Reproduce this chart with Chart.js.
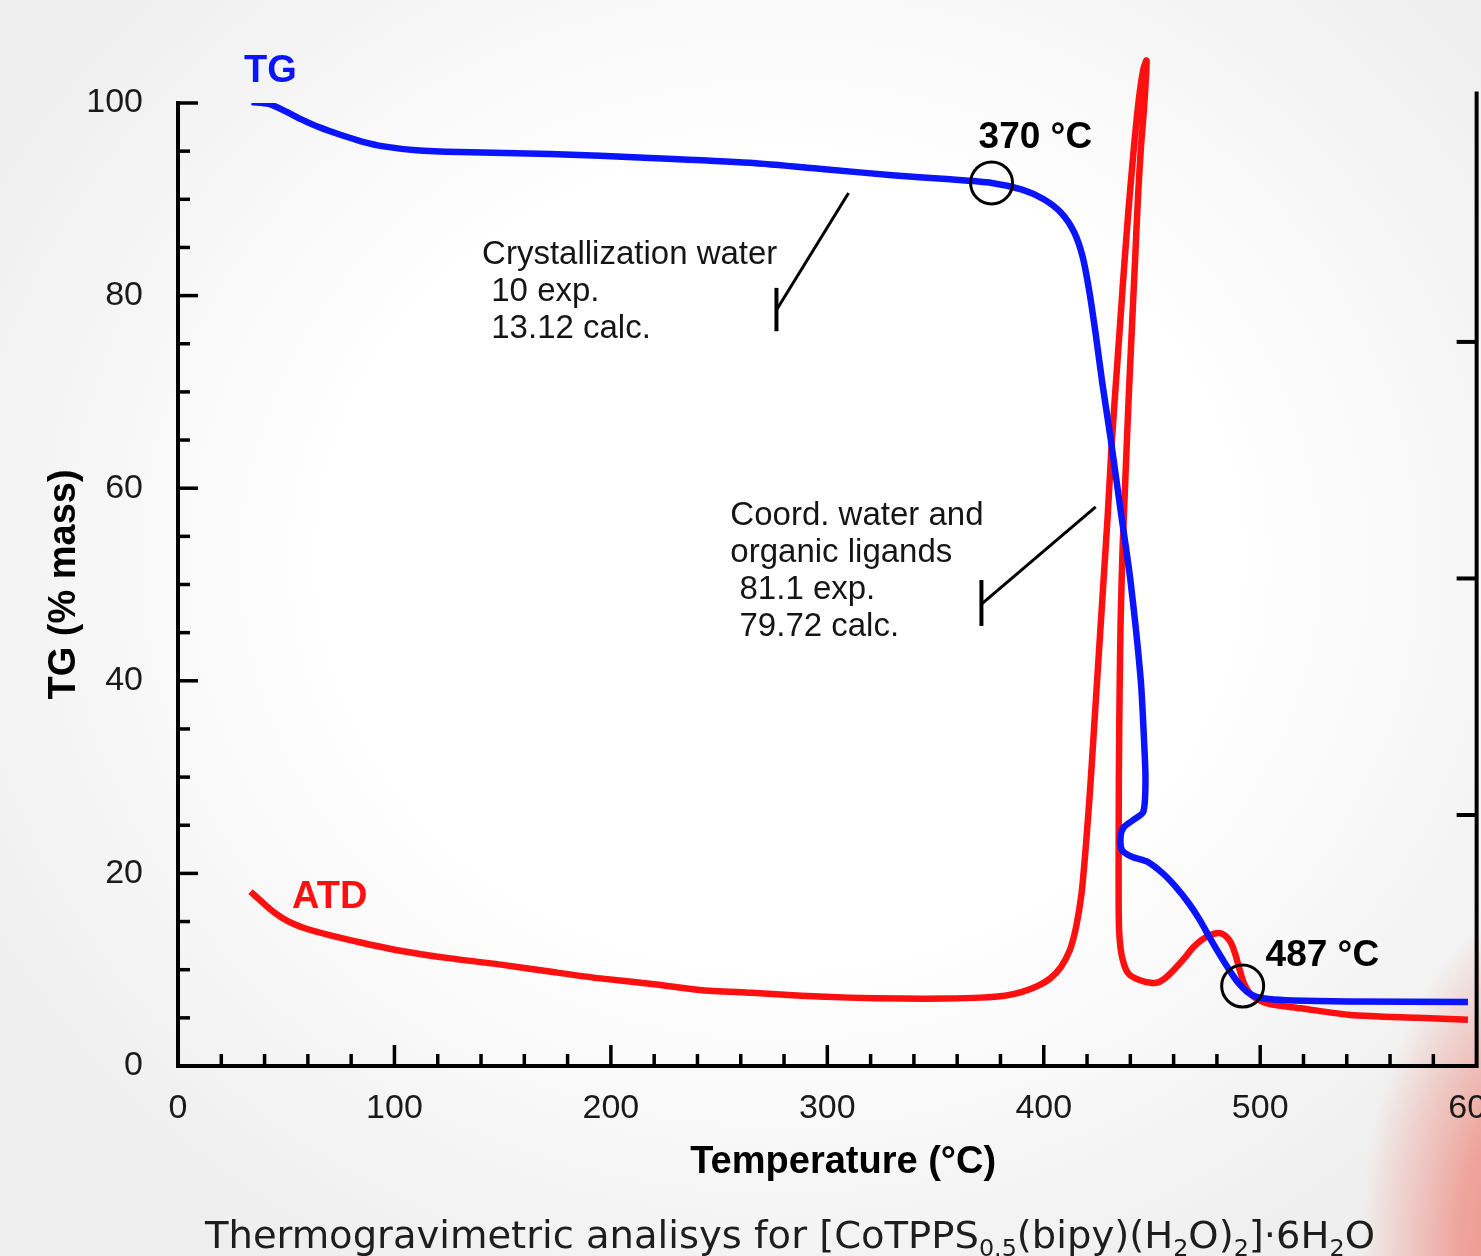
<!DOCTYPE html>
<html><head><meta charset="utf-8">
<script src="https://cdn.jsdelivr.net/npm/chart.js@4/dist/chart.umd.min.js"></script>
<style>
html,body{margin:0;padding:0;width:1481px;height:1256px;overflow:hidden;}
body{position:relative;background:
 radial-gradient(ellipse 200px 360px at 1560px 1256px, rgba(234,135,125,0.95) 0%, rgba(238,150,140,0.85) 50%, rgba(255,255,255,0) 100%),
 radial-gradient(ellipse 900px 800px at 780px 560px, #ffffff 50%, #efefef 100%);}
#c{position:absolute;left:0;top:0;}
#cap{position:absolute;left:205px;top:1217px;font-family:"DejaVu Sans Condensed","DejaVu Sans",sans-serif;font-size:37px;color:#1e1e1e;white-space:nowrap;transform-origin:0 0;line-height:1;}
#cap sub{font-size:0.62em;vertical-align:-0.35em;line-height:0;}
</style></head>
<body>
<canvas id="c" width="1527" height="1256"></canvas>
<div id="cap">Thermogravimetric analisys for [CoTPPS<sub>0.5</sub>(bipy)(H<sub>2</sub>O)<sub>2</sub>]·6H<sub>2</sub>O</div>
<script>
// ---- data ----
const tgTemp = [34, 42, 50, 57, 65, 75, 85, 95, 110, 130, 172, 218, 264, 300, 330, 355, 376, 390, 400, 408, 414, 418, 421, 424, 427, 431, 435.5, 440, 444.8, 446.5, 447, 446, 441, 437, 435.5, 436.2, 441, 448, 455, 461, 467, 472, 477, 482, 486.5, 490, 494, 498, 504, 515, 540, 596];
const tgMass = [100.1, 99.9, 99.1, 98.3, 97.5, 96.7, 96.0, 95.5, 95.1, 94.9, 94.7, 94.3, 93.8, 93.1, 92.5, 92.1, 91.7, 91.0, 90.0, 88.6, 86.6, 84.0, 80.5, 76, 71, 65, 57.7, 50.5, 40.1, 33, 29.7, 26.4, 25.5, 24.8, 23.8, 22.4, 21.7, 21.2, 20.0, 18.6, 16.9, 15.2, 13.2, 11.3, 9.7, 8.6, 7.7, 7.2, 6.95, 6.8, 6.7, 6.65];

const atdTemp = [33.5, 38, 43, 48, 53, 60, 70, 85, 102, 125, 150, 175, 195, 220, 241, 265, 288, 310, 334, 355, 371, 382, 390, 397, 403, 408, 412, 415, 417.5, 419.5, 421.5, 423.5, 425.5, 427.5, 429.5, 431.5, 434, 436.5, 439, 441.5, 444, 446, 447.5, 446.5, 444.8, 443.5, 442.4, 440.8, 439.2, 437.8, 436.4, 435.5, 435, 434.7, 434.6, 434.6, 434.8, 435.5, 436.5, 438, 440, 444.5, 449.4, 453, 457, 461, 465, 469, 473, 477, 481, 484, 486.5, 488.5, 490.5, 492.5, 495, 499, 505, 518.7, 541.8, 572.8, 596];
const atdSignal = [18.1, 17.2, 16.2, 15.4, 14.8, 14.2, 13.6, 12.8, 12.0, 11.2, 10.5, 9.7, 9.1, 8.5, 7.9, 7.6, 7.3, 7.1, 7.0, 7.0, 7.1, 7.3, 7.7, 8.3, 9.1, 10.3, 12.0, 14.5, 18, 23, 29, 36, 43, 50, 57, 65, 73, 81, 88.5, 95, 100.5, 103.5, 104.4, 100, 95.1, 90, 84.7, 77, 69.2, 61.5, 53.6, 46, 38, 30, 22.4, 17, 14.1, 12.2, 11.0, 10.0, 9.4, 8.9, 8.65, 8.7, 9.3, 10.2, 11.2, 12.3, 13.1, 13.6, 13.8, 13.5, 12.8, 11.6, 10.0, 8.6, 7.6, 6.9, 6.4, 6.0, 5.3, 5.0, 4.8];

const seriesNames = ['TG', 'ATD'];
const xTitle = '   Temperature (°C)';
const yTitle = 'TG (% mass)';
const noteTexts = [
  ['Crystallization water', ' 10 exp.', ' 13.12 calc.'],
  ['Coord. water and', 'organic ligands', ' 81.1 exp.', ' 79.72 calc.']
];
const markLabels = ['370 °C', '487 °C'];

// ---- styling / annotation placement (data coordinates) ----
const FONT = "'Liberation Sans', Arial, sans-serif";
const notePos = [{x: 140.5, y: 84.2}, {x: 255.2, y: 57.1}];
const leaders = [
  {from: [309.8, 90.65], to: [276.5, 78.5], bar: [80.8, 76.3]},
  {from: [424.0, 58.05], to: [371.2, 47.97], bar: [50.47, 45.7]}
];
const circles = [{x: 375.9, y: 91.7}, {x: 491.9, y: 8.3}];
const markPos = [{x: 369.9, y: 96.4}, {x: 502.5, y: 11.4}];
const seriesLabelPos = [{x: 30.5, y: 103.3, color: '#0a14ff'}, {x: 52.7, y: 17.5, color: '#ff1010'}];

const toXY = (xs, ys) => xs.map((x, i) => ({x, y: ys[i]}));

const extras = {
  id: 'extras',
  afterDatasetsDraw(chart) {
    const ctx = chart.ctx, xs = chart.scales.x, ys = chart.scales.y, y2 = chart.scales.y2;
    const a = chart.chartArea;
    ctx.save();
    ctx.strokeStyle = '#000'; ctx.lineCap = 'butt';
    ctx.lineWidth = 3.5;
    ys.ticks.forEach(t => {
      if (t.value <= 0) return;
      const py = ys.getPixelForValue(t.value);
      const len = t.value % 20 === 0 ? 20 : 12;
      ctx.beginPath(); ctx.moveTo(a.left, py); ctx.lineTo(a.left + len, py); ctx.stroke();
    });
    xs.ticks.forEach(t => {
      if (t.value <= 0 || t.value >= 600) return;
      const px = xs.getPixelForValue(t.value);
      const len = t.value % 100 === 0 ? 21 : 12;
      ctx.beginPath(); ctx.moveTo(px, a.bottom); ctx.lineTo(px, a.bottom - len); ctx.stroke();
    });
    // right axis (ATD, unlabelled)
    ctx.lineWidth = 4;
    ctx.beginPath(); ctx.moveTo(a.right, ys.getPixelForValue(101.2)); ctx.lineTo(a.right, a.bottom + 2); ctx.stroke();
    [1, 2, 3].forEach(v => {
      const py = y2.getPixelForValue(v);
      ctx.beginPath(); ctx.moveTo(a.right, py); ctx.lineTo(a.right - 20, py); ctx.stroke();
    });
    // leader lines
    leaders.forEach(l => {
      ctx.lineWidth = 3;
      ctx.beginPath();
      ctx.moveTo(xs.getPixelForValue(l.from[0]), ys.getPixelForValue(l.from[1]));
      ctx.lineTo(xs.getPixelForValue(l.to[0]), ys.getPixelForValue(l.to[1]));
      ctx.stroke();
      ctx.lineWidth = 4;
      ctx.beginPath();
      ctx.moveTo(xs.getPixelForValue(l.to[0]), ys.getPixelForValue(l.bar[0]));
      ctx.lineTo(xs.getPixelForValue(l.to[0]), ys.getPixelForValue(l.bar[1]));
      ctx.stroke();
    });
    // circles
    ctx.lineWidth = 3;
    circles.forEach(c => {
      ctx.beginPath();
      ctx.arc(xs.getPixelForValue(c.x), ys.getPixelForValue(c.y), 21, 0, Math.PI * 2);
      ctx.stroke();
    });
    // note texts
    ctx.fillStyle = '#151515'; ctx.textBaseline = 'middle'; ctx.textAlign = 'left';
    ctx.font = '33px ' + FONT;
    noteTexts.forEach((lines, i) => {
      const px = xs.getPixelForValue(notePos[i].x), py = ys.getPixelForValue(notePos[i].y);
      lines.forEach((s, k) => ctx.fillText(s, px, py + k * 37));
    });
    // temperature marks
    ctx.font = 'bold 37px ' + FONT; ctx.fillStyle = '#000';
    markLabels.forEach((s, i) => ctx.fillText(s, xs.getPixelForValue(markPos[i].x), ys.getPixelForValue(markPos[i].y)));
    // series labels
    ctx.font = 'bold 38px ' + FONT;
    seriesNames.forEach((s, i) => {
      ctx.fillStyle = seriesLabelPos[i].color;
      ctx.fillText(s, xs.getPixelForValue(seriesLabelPos[i].x), ys.getPixelForValue(seriesLabelPos[i].y));
    });
    ctx.restore();
  }
};

new Chart(document.getElementById('c'), {
  type: 'scatter',
  data: {
    datasets: [
      {label: seriesNames[0], data: toXY(tgTemp, tgMass), showLine: true, borderColor: '#0a14ff', borderWidth: 6.5, pointRadius: 0, tension: 0.25, fill: false},
      {label: seriesNames[1], data: toXY(atdTemp, atdSignal), showLine: true, borderColor: '#ff1010', borderWidth: 6.5, pointRadius: 0, tension: 0.25, fill: false, clip: false}
    ]
  },
  options: {
    responsive: false, animation: false, devicePixelRatio: 1,
    layout: {padding: {left: 0, top: 103, right: 40, bottom: 71}},
    plugins: {legend: {display: false}, tooltip: {enabled: false}},
    scales: {
      x: {
        type: 'linear', min: 0, max: 600,
        grid: {display: false, drawTicks: false},
        border: {display: true, width: 4, color: '#000'},
        ticks: {stepSize: 20, maxTicksLimit: 100, autoSkip: false, maxRotation: 0, padding: 22, color: '#1a1a1a',
          font: {family: FONT, size: 34}, callback: v => (v % 100 === 0 ? String(v) : '')},
        title: {display: true, text: xTitle, color: '#000', font: {family: FONT, size: 38, weight: 'bold'}, padding: {top: 0, bottom: 0}},
        afterFit: s => { s.height = 119; }
      },
      y: {
        type: 'linear', min: 0, max: 100,
        grid: {display: false, drawTicks: false},
        border: {display: true, width: 4, color: '#000'},
        ticks: {stepSize: 5, maxTicksLimit: 100, autoSkip: false, padding: 35, color: '#1a1a1a',
          font: {family: FONT, size: 34}, callback: v => (v % 20 === 0 ? String(v) : '')},
        title: {display: true, text: yTitle, color: '#000', font: {family: FONT, size: 38, weight: 'bold'}, padding: {top: 42, bottom: 0}},
        afterFit: s => { s.width = 178; }
      },
      y2: {type: 'linear', position: 'right', display: false, min: -0.061, max: 4.01}
    }
  },
  plugins: [extras]
});

const cap = document.getElementById('cap');
const w = cap.getBoundingClientRect().width;
cap.style.transform = 'scaleX(' + (1170 / w) + ')';
</script>
</body></html>
